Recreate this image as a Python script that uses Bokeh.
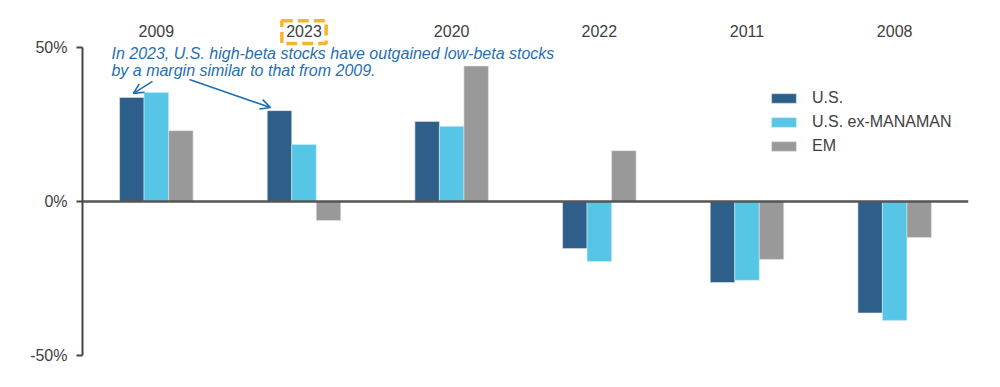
from bokeh.plotting import figure
from bokeh.models import (ColumnDataSource, FactorRange, Range1d, FixedTicker, PrintfTickFormatter,
                          Span, Label, Arrow, OpenHead, Legend, LegendItem)
from bokeh.core.properties import value
from bokeh.transform import dodge
from bokeh.embed import file_html
from bokeh.resources import INLINE

years = ["2009", "2023", "2020", "2022", "2011", "2008"]
us = [33.8, 29.5, 26.0, -15.3, -26.3, -36.2]
us_ex = [35.4, 18.5, 24.4, -19.5, -25.6, -38.6]
em = [23.0, -6.2, 44.0, 16.5, -18.8, -11.7]
y_ticks = [-50, 0, 50]
highlight_year = "2023"

FONT = "Liberation Sans"
C_US = "#2e5f8a"
C_EX = "#56c5e6"
C_EM = "#999999"
TXT = "#404040"
BLUE = "#1f6fb3"

src = ColumnDataSource(dict(year=years, us=us, us_ex=us_ex, em=em))
lab_src = ColumnDataSource(dict(year=years, y=[55.2] * len(years)))

p = figure(width=992, height=379, x_range=FactorRange(*years, range_padding=0),
           y_range=Range1d(-50, 65.26),
           output_backend="svg", toolbar_location=None,
           min_border_left=82, min_border_right=24, min_border_top=0, min_border_bottom=24)
p.outline_line_color = None
p.grid.visible = False
p.background_fill_color = "white"
p.xaxis.visible = False

bw = 0.166
r1 = p.vbar(x=dodge("year", -bw, range=p.x_range), top="us", bottom=0, width=bw, source=src,
            fill_color=C_US, line_color="#dfe6ee", line_width=0.6)
r2 = p.vbar(x=dodge("year", 0, range=p.x_range), top="us_ex", bottom=0, width=bw, source=src,
            fill_color=C_EX, line_color="#c8eef9", line_width=0.6)
r3 = p.vbar(x=dodge("year", bw, range=p.x_range), top="em", bottom=0, width=bw, source=src,
            fill_color=C_EM, line_color="#e4e4e4", line_width=0.6)

p.add_layout(Span(location=0, dimension="width", line_color="#555555", line_width=2.5))

# category labels along the top
p.text(x="year", y="y", text="year", source=lab_src, text_align="center", text_baseline="middle",
       text_font=value(FONT), text_font_size="16px", text_color=TXT)

# dashed highlight box around the 2023 label
p.rect(x=[highlight_year], y=[55.0], width=0.300, height=7.4, fill_color=None,
       line_color="#f6b431", line_width=3.5, line_dash="11 5")

ya = p.yaxis[0]
ya.bounds = (-50, 50)
ya.ticker = FixedTicker(ticks=y_ticks)
ya.formatter = PrintfTickFormatter(format="%d%%")
ya.axis_line_color = "#444444"
ya.axis_line_width = 2
ya.major_tick_line_color = "#444444"
ya.major_tick_line_width = 2
ya.major_tick_out = 6
ya.major_tick_in = 0
ya.minor_tick_line_color = None
ya.major_label_standoff = 9
ya.major_label_text_font = FONT
ya.major_label_text_font_size = "16px"
ya.major_label_text_color = TXT

legend = Legend(items=[LegendItem(label="U.S.", renderers=[r1]),
                       LegendItem(label="U.S. ex-MANAMAN", renderers=[r2]),
                       LegendItem(label="EM", renderers=[r3])],
                location=(686, 199), padding=0, margin=0, spacing=4,
                glyph_width=31, glyph_height=12, label_height=20, label_standoff=13,
                border_line_color=None, background_fill_alpha=0,
                label_text_font=FONT, label_text_font_size="16px", label_text_color=TXT)
p.add_layout(legend, "center")

# annotation
p.add_layout(Label(x=0.196, y=48.0, text="In 2023, U.S. high-beta stocks have outgained low-beta stocks",
                   text_font=FONT, text_font_size="16px", text_font_style="italic",
                   text_color=BLUE, text_baseline="alphabetic"))
p.add_layout(Label(x=0.196, y=42.5, text="by a margin similar to that from 2009.",
                   text_font=FONT, text_font_size="16px", text_font_style="italic",
                   text_color=BLUE, text_baseline="alphabetic"))

p.add_layout(Arrow(x_start=0.474, y_start=39.0, x_end=0.345, y_end=35.1,
                   line_color=BLUE, line_width=1.6,
                   end=OpenHead(size=10, line_color=BLUE, line_width=1.6)))
p.add_layout(Arrow(x_start=0.724, y_start=39.6, x_end=1.273, y_end=30.5,
                   line_color=BLUE, line_width=1.6,
                   end=OpenHead(size=10, line_color=BLUE, line_width=1.6)))

open("out.html", "w").write(file_html(p, INLINE))
